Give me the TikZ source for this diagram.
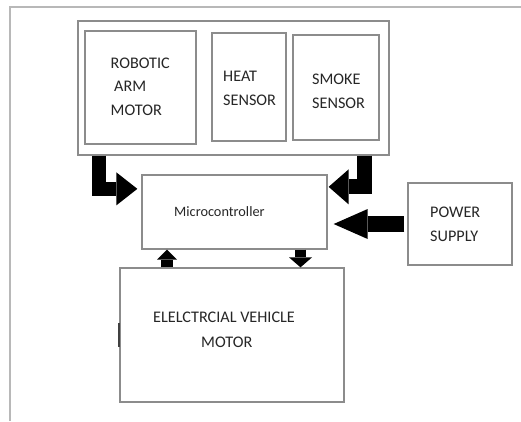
\documentclass[tikz,border=0pt]{standalone}
\usepackage{fontspec}
\setmainfont{Carlito}
\usetikzlibrary{arrows.meta}
\definecolor{frame}{HTML}{B8B8B8}
\definecolor{edge}{HTML}{8C8C8C}
\tikzset{
  box/.style={draw=edge, line width=1.3pt, fill=white, inner sep=0pt, rectangle},
  lbl/.style={anchor=base west, inner sep=0pt, font=\fontsize{16.2}{19}\selectfont, text=black!85},
  fat/.style={black, line width=#1, line join=miter},
}
\begin{document}
\begin{tikzpicture}[x=1pt,y=-1pt]
\useasboundingbox (0,0) rectangle (521,421);
% outer frame
\draw[frame, line width=2pt] (10,421) -- (10,7) -- (521,7);
% boxes
\node[box, minimum width=311pt, minimum height=134pt] (grp) at (233.5,88) {};
\node[box, minimum width=111pt, minimum height=113pt] (rob) at (140.5,87.5) {};
\node[box, minimum width=74pt, minimum height=108pt] (heat) at (249,87) {};
\node[box, minimum width=86pt, minimum height=105pt] (smoke) at (336,87.5) {};
\node[box, minimum width=185pt, minimum height=74pt] (mc) at (234.5,212) {};
\node[box, minimum width=104pt, minimum height=82pt] (ps) at (460,224) {};
\node[box, minimum width=224pt, minimum height=134pt] (ev) at (232,335) {};
% texts
\node[lbl] (t1) at (110.5,68) {ROBOTIC};
\node[lbl] (t2) at (114,91) {ARM};
\node[lbl] (t3) at (110.5,115) {MOTOR};
\node[lbl] (t4) at (223,81) {HEAT};
\node[lbl] (t5) at (223,105) {SENSOR};
\node[lbl] (t6) at (312,84) {SMOKE};
\node[lbl] (t7) at (312,108) {SENSOR};
\node[lbl, font=\fontsize{14.3}{17}\selectfont] (t8) at (174,216.5) {Microcontroller};
\node[lbl] (t9) at (430,217) {POWER};
\node[lbl] (t10) at (430,241) {SUPPLY};
\node[lbl] (t11) at (153,322) {ELELCTRCIAL VEHICLE};
\node[lbl] (t12) at (201,347) {MOTOR};
% mark on EV box
\draw[black!75, line width=2pt] ([yshift=12pt]ev.west) -- ([yshift=-12pt]ev.west);
% fat arrows
\draw[fat=14pt, -{Triangle[length=21pt,width=33pt,line width=0pt]}]
  ([xshift=21.5pt]grp.south west) |- ([xshift=-4pt,yshift=-14.5pt]mc.north west);
\draw[fat=15pt, -{Triangle[length=20pt,width=35pt,line width=0pt]}]
  ([xshift=-25.5pt]grp.south east) |- ([xshift=1pt,yshift=-12.5pt]mc.north east);
\draw[fat=16pt, -{Triangle[length=34pt,width=30pt,line width=0pt]}]
  ([xshift=-3pt]ps.west) -- ([xshift=6pt]mc.east |- ps.west);
\draw[fat=12pt, -{Triangle[length=10pt,width=20pt,line width=0pt]}]
  ([xshift=-65pt]ev.north) -- ([xshift=-65pt]ev.north |- mc.south);
\draw[fat=11pt, -{Triangle[length=10pt,width=23pt,line width=0pt]}]
  ([xshift=66pt]mc.south) -- ([xshift=66pt]mc.south |- ev.north);
\end{tikzpicture}
\end{document}
